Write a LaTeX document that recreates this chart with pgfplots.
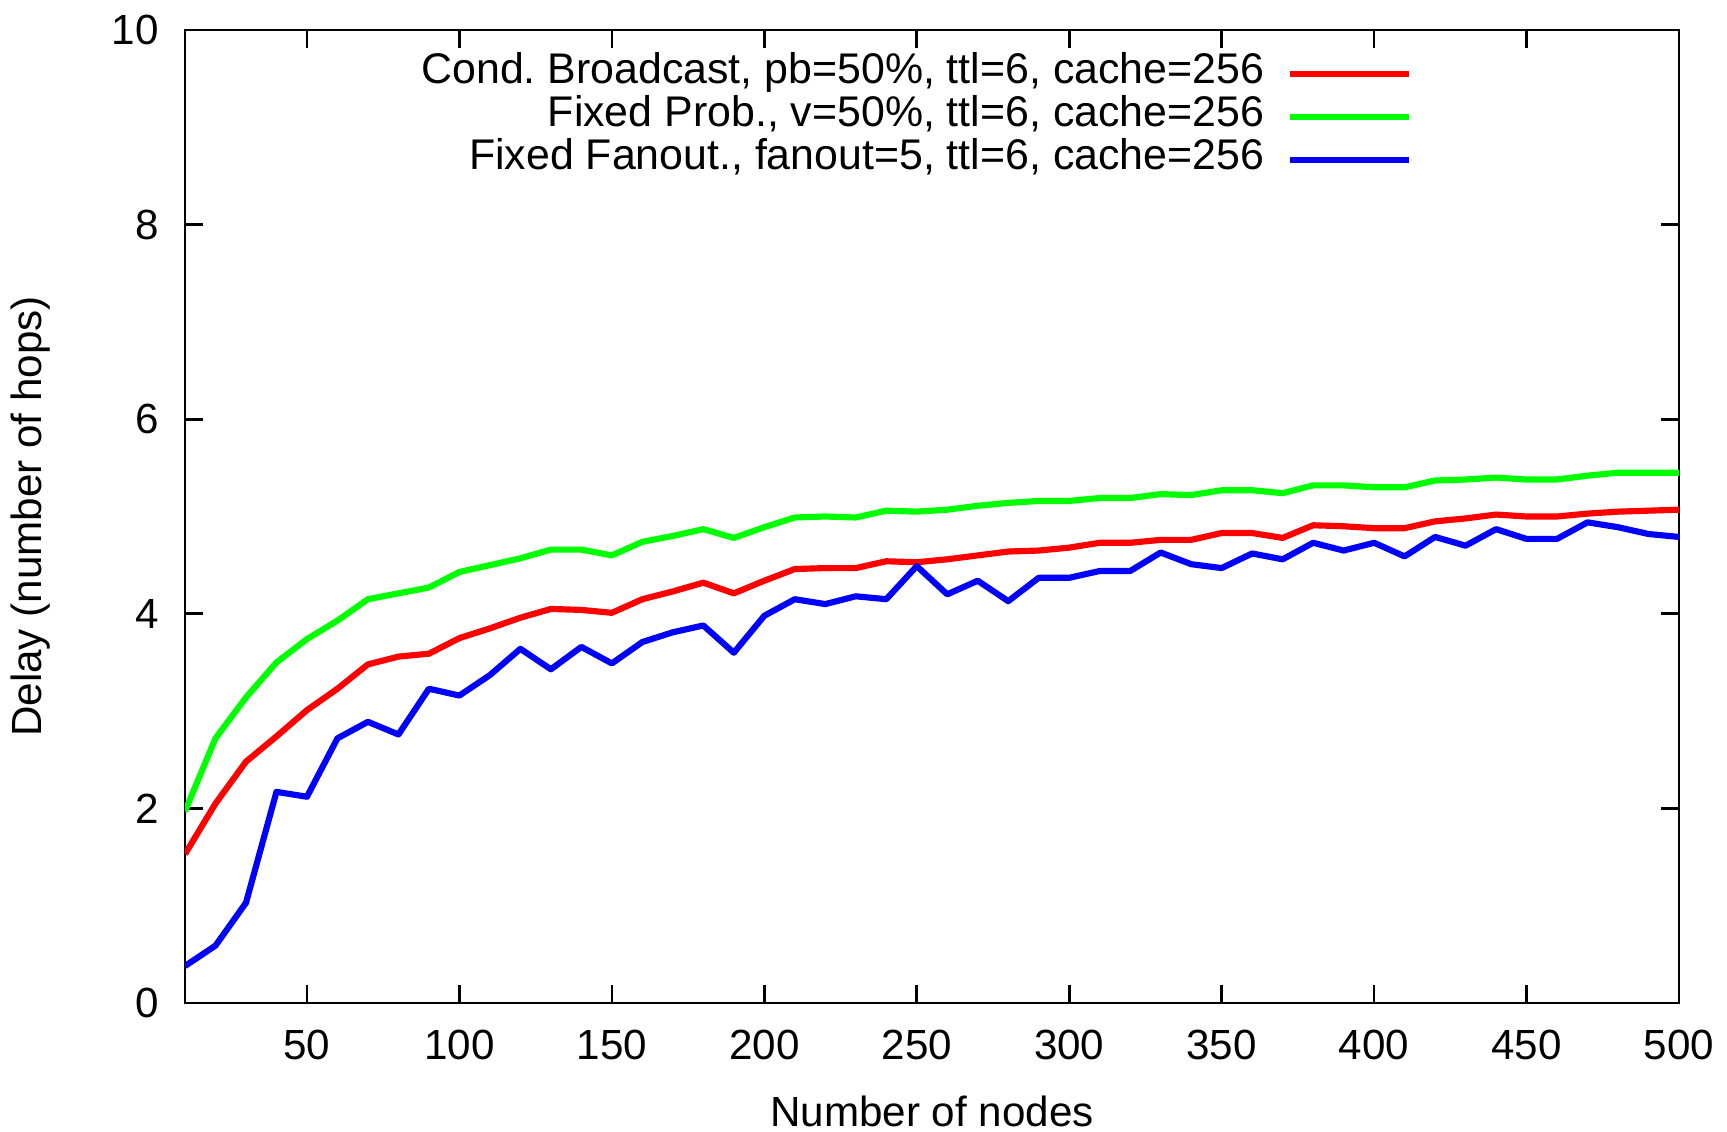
\documentclass[border=0pt]{standalone}
\usepackage{fontspec}
\setmainfont{Liberation Sans}
\usepackage{pgfplots}
\pgfplotsset{compat=1.18}
\pgfplotstableread{
x red green blue
10 1.53 1.97 0.38
20 2.05 2.72 0.59
30 2.48 3.14 1.03
40 2.74 3.50 2.17
50 3.01 3.74 2.12
60 3.23 3.93 2.72
70 3.48 4.15 2.89
80 3.56 4.21 2.76
90 3.59 4.27 3.23
100 3.75 4.43 3.16
110 3.85 4.50 3.37
120 3.96 4.57 3.64
130 4.05 4.66 3.43
140 4.04 4.66 3.66
150 4.01 4.60 3.49
160 4.15 4.74 3.71
170 4.23 4.80 3.81
180 4.32 4.87 3.88
190 4.21 4.78 3.60
200 4.34 4.89 3.98
210 4.46 4.99 4.15
220 4.47 5.00 4.10
230 4.47 4.99 4.18
240 4.54 5.06 4.15
250 4.53 5.05 4.49
260 4.56 5.07 4.20
270 4.60 5.11 4.34
280 4.64 5.14 4.13
290 4.65 5.16 4.37
300 4.68 5.16 4.37
310 4.73 5.19 4.44
320 4.73 5.19 4.44
330 4.76 5.23 4.63
340 4.76 5.22 4.51
350 4.83 5.27 4.47
360 4.83 5.27 4.62
370 4.78 5.24 4.56
380 4.91 5.32 4.73
390 4.90 5.32 4.65
400 4.88 5.30 4.73
410 4.88 5.30 4.59
420 4.95 5.37 4.79
430 4.98 5.38 4.70
440 5.02 5.40 4.87
450 5.00 5.38 4.77
460 5.00 5.38 4.77
470 5.03 5.42 4.94
480 5.05 5.45 4.89
490 5.06 5.45 4.82
500 5.07 5.45 4.79
}\datatable
\definecolor{gred}{RGB}{255,0,0}
\definecolor{ggreen}{RGB}{0,255,0}
\definecolor{gblue}{RGB}{0,0,255}
\begin{document}
\frenchspacing
\begin{tikzpicture}
\begin{axis}[
  name=ax,
  scale only axis,
  width=14.94cm, height=9.73cm,
  xmin=10, xmax=500, ymin=0, ymax=10,
  xtick={50,100,...,500},
  ytick={0,2,...,10},
  font=\fontsize{12}{14.4}\selectfont,
  /pgf/number format/assume math mode=true,
  tick label style={font=\fontsize{12}{14.4}\selectfont},
  xticklabel style={yshift=-1.5mm},
  yticklabel style={xshift=-1.4mm},
  major tick length=1.8mm,
  tick pos=both,
  tick align=inside,
  axis line style={line width=0.75pt},
  every tick/.style={black, line width=0.75pt},
  xlabel={Number of nodes},
  ylabel={Delay (number of hops)},
  xlabel style={at={(axis description cs:0.5,-0.127)}, anchor=base, inner sep=0pt},
  ylabel style={at={(axis description cs:-0.0897,0.5)}, anchor=south, inner sep=0pt},
  legend plot pos=right,
  legend cell align=right,
  legend style={at={(axis description cs:0.829,0.985)}, anchor=north east,
    draw=none, fill=none, row sep=0pt, column sep=2.1mm,
    font=\fontsize{12.2}{14.6}\selectfont,
    nodes={text height=2.9mm, text depth=1.0mm, inner sep=0.2mm}},
  legend image code/.code={\draw[#1] (0cm,0cm) -- (1.19cm,0cm);},
  every axis plot/.append style={line width=1.75pt, line join=round},
]
\addplot[gred] table[x=x, y=red] {\datatable};
\addlegendentry{Cond. Broadcast, pb=50\%, ttl=6, cache=256}
\addplot[ggreen] table[x=x, y=green] {\datatable};
\addlegendentry{Fixed Prob., v=50\%, ttl=6, cache=256}
\addplot[gblue] table[x=x, y=blue] {\datatable};
\addlegendentry{Fixed Fanout., fanout=5, ttl=6, cache=256}
\end{axis}
\pgfresetboundingbox
\useasboundingbox ([shift={(-1.85cm,-1.28cm)}]ax.south west) rectangle ([shift={(0.48cm,0.30cm)}]ax.north east);
\end{tikzpicture}
\end{document}
